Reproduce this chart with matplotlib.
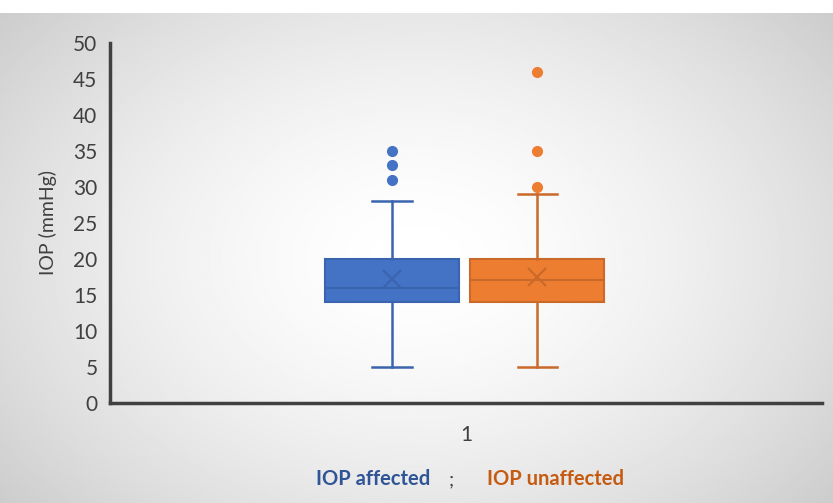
import matplotlib.pyplot as plt
import numpy as np

# box statistics (mmHg)
groups = ['IOP affected', 'IOP unaffected']
whisker_low = [5, 5]
q1 = [14, 14]
median = [16, 17]
q3 = [20, 20]
whisker_high = [28, 29]
mean = [17.2, 17.5]
outliers = [[31, 33, 35], [30, 35, 46]]

fill_colors = ['#4472C4', '#ED7D31']
edge_colors = ['#3A64AE', '#C9692A']
text_colors = ['#2F5597', '#C55A11']

plt.rcParams['font.family'] = ['Lato', 'DejaVu Sans']

fig = plt.figure(figsize=(8.33, 5.03), dpi=100)
fig.patch.set_facecolor('white')

# grey radial background under the chart area
bg = fig.add_axes([0, 0, 1, 0.974])
yy, xx = np.mgrid[-1:1:300j, -1:1:500j]
r = np.sqrt((xx * 0.85) ** 2 + (yy * 0.7) ** 2)
shade = 1 - 0.17 * np.clip(r, 0, 1.2) ** 1.6
bg.imshow(shade, cmap='gray', vmin=0, vmax=1, aspect='auto', extent=[0, 1, 0, 1])
bg.axis('off')

ax = fig.add_axes([0.132, 0.199, 0.855, 0.716])
ax.patch.set_alpha(0)

offsets = [-0.104, 0.1]
for i in range(len(groups)):
    stats = [{
        'whislo': whisker_low[i], 'q1': q1[i], 'med': median[i], 'q3': q3[i],
        'whishi': whisker_high[i], 'mean': mean[i], 'fliers': outliers[i],
    }]
    ax.bxp(stats, positions=[1 + offsets[i]], widths=0.188, patch_artist=True,
           showmeans=True, manage_ticks=False,
           boxprops=dict(facecolor=fill_colors[i], edgecolor=edge_colors[i], linewidth=1.5),
           medianprops=dict(color=edge_colors[i], linewidth=1.5),
           whiskerprops=dict(color=edge_colors[i], linewidth=1.8),
           capprops=dict(color=edge_colors[i], linewidth=1.8),
           capwidths=0.055,
           meanprops=dict(marker='x', markeredgecolor=edge_colors[i], markersize=13, markeredgewidth=1.5),
           flierprops=dict(marker='o', markerfacecolor=fill_colors[i], markeredgecolor=fill_colors[i],
                           markersize=7))

ax.set_xlim(0.5, 1.5)
ax.set_ylim(0, 50)
ax.set_yticks(range(0, 51, 5))
ax.set_xticks([1])
ax.set_xticklabels(['1'])
ax.tick_params(length=0, labelsize=15, colors='#404040', pad=9)
ax.tick_params(axis='x', pad=16)
for s in ['top', 'right']:
    ax.spines[s].set_visible(False)
for s in ['left', 'bottom']:
    ax.spines[s].set_color('#404040')
    ax.spines[s].set_linewidth(2.5)
ax.set_ylabel('IOP (mmHg)', fontsize=14, color='#404040', labelpad=12)

fig.text(0.4475, 0.035, groups[0], color=text_colors[0], fontsize=14.5, fontweight='bold', ha='center')
fig.text(0.542, 0.035, ';', color='#404040', fontsize=14.5, ha='center')
fig.text(0.6665, 0.035, groups[1], color=text_colors[1], fontsize=14.5, fontweight='bold', ha='center')

fig.savefig('out.png', dpi=100)
